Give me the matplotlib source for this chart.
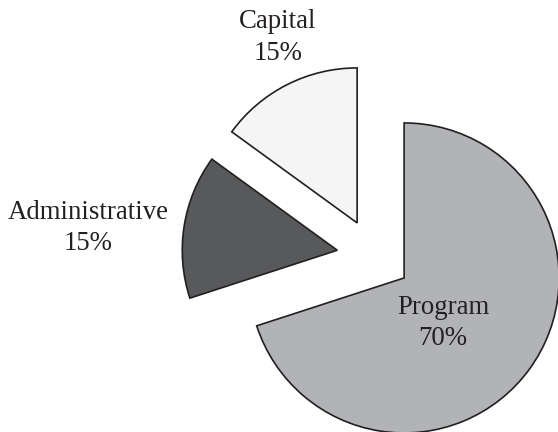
import matplotlib
matplotlib.use("Agg")
import matplotlib.pyplot as plt

categories = ["Program", "Administrative", "Capital"]
shares = [70, 15, 15]
colors = ["#b2b3b7", "#58595b", "#f5f5f5"]
explode = [0.24, 0.24, 0.24]
# label block centres (pie-radius units relative to the pie centre)
label_pos = [(0.445, -0.43), (-1.845, 0.18), (-0.62, 1.41)]

plt.rcParams['font.family'] = ['Liberation Serif', 'DejaVu Serif']

fig = plt.figure(figsize=(5.58, 4.32), dpi=100)
ax = fig.add_axes([0, 0, 1, 1])
wedges, _ = ax.pie(shares, colors=colors, explode=explode, startangle=90,
                   counterclock=False, radius=1.0,
                   wedgeprops=dict(edgecolor="#231f20", linewidth=1.2))
for w in wedges:
    w.set_clip_on(False)
for name, val, (lx, ly) in zip(categories, shares, label_pos):
    ax.text(lx, ly, f"{name}\n{val}%", ha="center", va="center",
            fontsize=19.3, color="#231f20", linespacing=1.32)

ax.set_xlim(-2.413, 1.187)
ax.set_ylim(-1.135, 1.652)
ax.set_aspect("equal")
ax.axis("off")
fig.savefig("out.png", dpi=100)
